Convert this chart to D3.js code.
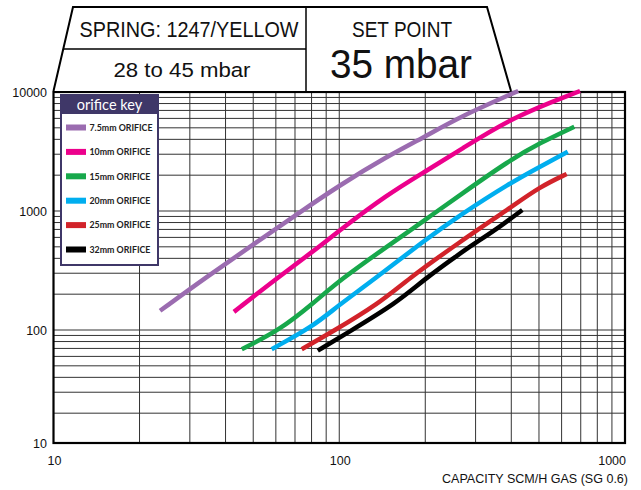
<!DOCTYPE html>
<html>
<head>
<meta charset="utf-8">
<script src="https://cdn.jsdelivr.net/npm/d3@7"></script>
<style>
  body { margin: 0; background: #fff; }
  svg { display: block; }
  .narrow { font-family: "Liberation Sans", Arial, sans-serif; }
  .tick { font-family: "Liberation Sans", Arial, sans-serif; font-size: 12.5px; fill: #111; }
</style>
</head>
<body>
<svg id="chart" width="641" height="490"></svg>
<script>
// curve data, [capacity scm/h, pressure drop]
var orifice75 = [[23.6,145],[34.4,280],[50.7,535],[71.9,957],[100.6,1654],[146.6,2860],[199.5,4211],[264.6,6200],[423,10195]];
var orifice10 = [[42.8,142],[60.4,272],[82.3,470],[100.6,692],[146.6,1363],[199.5,2139],[264.6,3255],[405.6,6200],[696,10195]];
var orifice15 = [[45.6,69],[62,100],[81.2,168],[100.6,263],[146.6,501],[199.5,840],[264.6,1363],[396,2683],[504,3727],[664.6,5110]];
var orifice20 = [[58,69],[80.9,107],[98,157],[131.6,263],[199.5,571],[264.6,925],[396,1719],[504,2357],[630.5,3150]];
var orifice25 = [[73.9,69],[92.8,94],[138.9,169],[172.2,263],[264.6,552],[396,1060],[504,1600],[625,2046]];
var orifice32 = [[84.1,67],[106.2,94],[158.9,169],[196.9,263],[264.6,441],[310.9,571],[365.3,738],[437.2,1020]];

var seriesLabels = ["7.5mm ORIFICE", "10mm ORIFICE", "15mm ORIFICE", "20mm ORIFICE", "25mm ORIFICE", "32mm ORIFICE"];
var seriesColors = ["#9b6cb0", "#ec008c", "#17a84b", "#00aeef", "#d2232a", "#000000"];
var seriesData = [orifice75, orifice10, orifice15, orifice20, orifice25, orifice32];

var xTicks = [10, 100, 1000];
var yTicks = [10, 100, 1000, 10000];

var svg = d3.select("#chart");

var x = d3.scaleLog().domain([10, 1000]).range([53.5, 625]);
var y = d3.scaleLog().domain([10, 10000]).range([449, 92]);
var plotTop = y(10000), plotBottom = 443;

// grid lines
var grid = svg.append("g");
var xGrid = [], yGrid = [];
[10, 100].forEach(function(d) { for (var k = 2; k <= 9; k++) xGrid.push(d * k); });
[10, 100, 1000].forEach(function(d) { for (var k = 2; k <= 9; k++) yGrid.push(d * k); });
yGrid.push(100, 1000);
xGrid.push(100);

grid.selectAll(".vx").data(xGrid).enter().append("line")
  .attr("x1", d => x(d)).attr("x2", d => x(d))
  .attr("y1", plotTop).attr("y2", plotBottom)
  .attr("stroke", "#333").attr("stroke-width", 1);
grid.selectAll(".hy").data(yGrid).enter().append("line")
  .attr("x1", x(10)).attr("x2", x(1000))
  .attr("y1", d => y(d)).attr("y2", d => y(d))
  .attr("stroke", "#333").attr("stroke-width", 1);

// frame
svg.append("rect")
  .attr("x", x(10)).attr("y", plotTop)
  .attr("width", x(1000) - x(10)).attr("height", plotBottom - plotTop)
  .attr("fill", "none").attr("stroke", "#000").attr("stroke-width", 2.2);

// curves
var line = d3.line()
  .x(d => x(d[0])).y(d => y(d[1]))
  .curve(d3.curveBasis);

svg.append("g").selectAll("path").data(seriesData).enter().append("path")
  .attr("d", line)
  .attr("fill", "none")
  .attr("stroke", (d, i) => seriesColors[i])
  .attr("stroke-width", 4.5);

// tick labels
svg.selectAll(".ylab").data(yTicks).enter().append("text")
  .attr("class", "tick")
  .attr("x", 47)
  .attr("y", d => Math.min(y(d), plotBottom) + 4.5)
  .attr("text-anchor", "end")
  .text(d => d);

svg.selectAll(".xlab").data(xTicks).enter().append("text")
  .attr("class", "tick")
  .attr("x", d => x(d) + 1)
  .attr("y", 465)
  .attr("text-anchor", (d, i) => i == xTicks.length - 1 ? "end" : "middle")
  .text(d => d);

svg.append("text")
  .attr("class", "narrow")
  .attr("x", 442).attr("y", 483)
  .attr("font-size", 12.5).attr("fill", "#111")
  .attr("textLength", 186).attr("lengthAdjust", "spacingAndGlyphs")
  .text("CAPACITY SCM/H GAS (SG 0.6)");

// header box
var hdr = svg.append("g");
hdr.append("path")
  .attr("d", d3.line()([[53.5, 91], [73, 7], [487, 7], [511, 91]]))
  .attr("fill", "#fff").attr("stroke", "#000").attr("stroke-width", 2);
hdr.append("line").attr("x1", 306).attr("x2", 306).attr("y1", 7).attr("y2", 91)
  .attr("stroke", "#000").attr("stroke-width", 1.5);
hdr.append("line").attr("x1", 63.3).attr("x2", 306).attr("y1", 49).attr("y2", 49)
  .attr("stroke", "#000").attr("stroke-width", 1.5);

function headerText(txt, cx, by, size, len) {
  hdr.append("text").attr("class", "narrow")
    .attr("x", cx - len / 2).attr("y", by)
    .attr("font-size", size).attr("fill", "#111")
    .attr("textLength", len).attr("lengthAdjust", "spacingAndGlyphs")
    .text(txt);
}
headerText("SPRING: 1247/YELLOW", 189, 37, 21.5, 219);
headerText("28 to 45 mbar", 182, 76.5, 20.5, 137);
headerText("SET POINT", 402, 37, 21.5, 100);
headerText("35 mbar", 401, 77.5, 41, 142);

// legend
var leg = svg.append("g");
leg.append("rect").attr("x", 61).attr("y", 95).attr("width", 97).attr("height", 170)
  .attr("fill", "#fff").attr("stroke", "#3f3768").attr("stroke-width", 2);
leg.append("rect").attr("x", 61).attr("y", 95).attr("width", 97).attr("height", 19)
  .attr("fill", "#3f3768");
leg.append("text").attr("x", 109.5).attr("y", 109.5)
  .attr("text-anchor", "middle").attr("fill", "#fff")
  .attr("font-family", "Lato, 'Open Sans', sans-serif").attr("font-size", 14.5)
  .text("orifice key");

var item = leg.selectAll(".item").data(seriesLabels).enter().append("g")
  .attr("transform", (d, i) => "translate(0," + (127.5 + i * 24.4) + ")");
item.append("rect").attr("x", 66).attr("y", -3).attr("width", 20).attr("height", 6)
  .attr("fill", (d, i) => seriesColors[i]);
item.append("text").attr("x", 89.5).attr("y", 3.2)
  .attr("font-family", "Lato, 'Open Sans', sans-serif").attr("font-weight", "bold")
  .attr("font-size", 8.8).attr("fill", "#222")
  .text(d => d);
</script>
</body>
</html>
